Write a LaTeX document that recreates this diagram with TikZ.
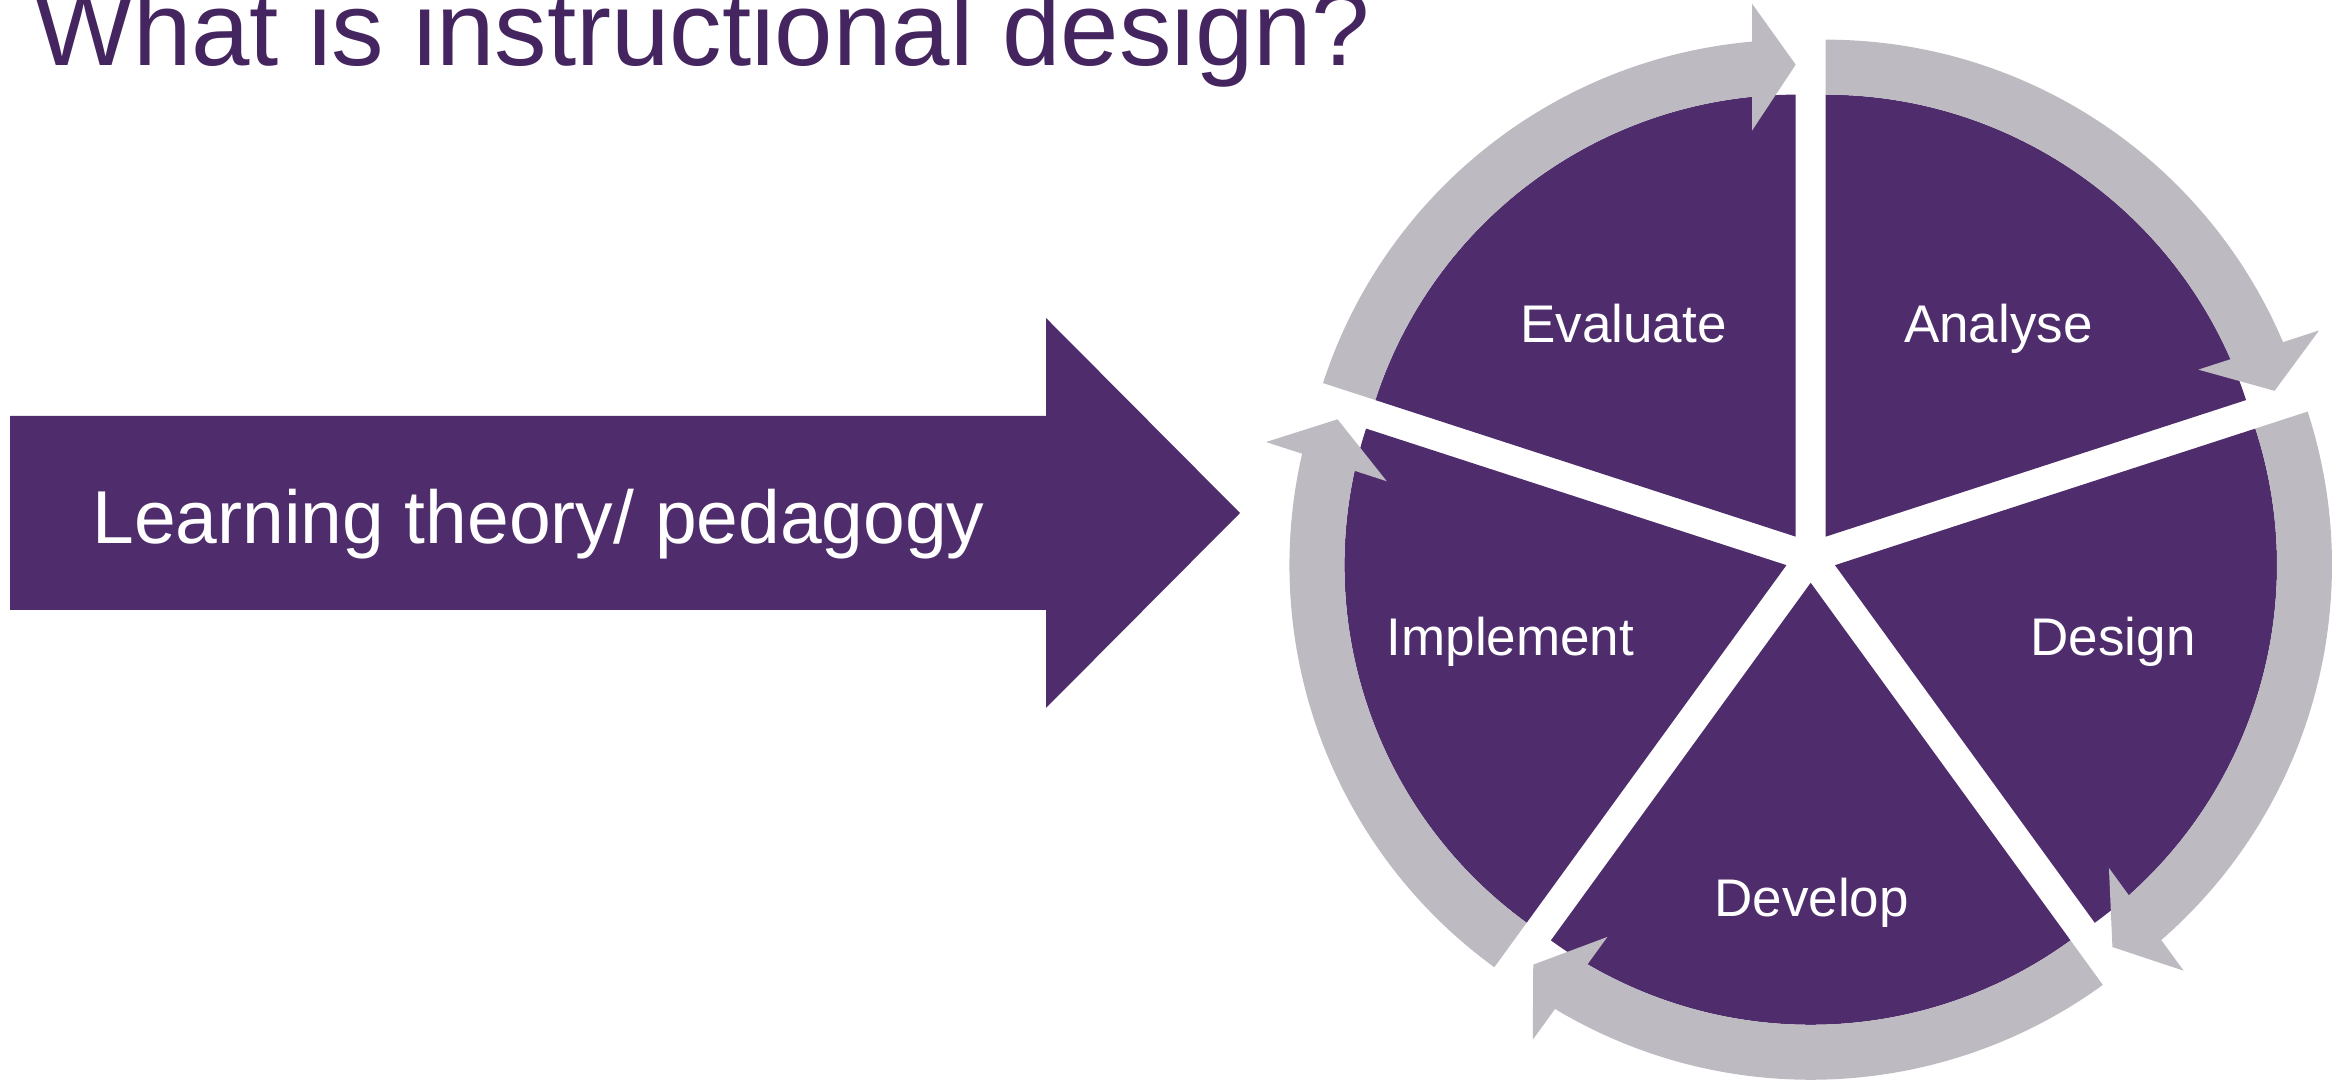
\documentclass[tikz,border=0pt]{standalone}
\usepackage{fontspec}
\setmainfont{Liberation Sans}
\definecolor{purp}{HTML}{4F2D6D}
\definecolor{ringgray}{HTML}{BDBAC1}
\definecolor{titlepurp}{HTML}{45255F}
\begin{document}
\begin{tikzpicture}[x=0.3pt,y=0.3pt,
  sectorfill/.style={fill=purp},
  ringarrow/.style={fill=ringgray},
  lbl/.style={anchor=base, inner sep=0pt, text=white, font=\fontsize{15.9pt}{19pt}\selectfont},
  arrowlbl/.style={anchor=base, inner sep=0pt, text=white, font=\fontsize{22.5pt}{27pt}\selectfont},
  titlelbl/.style={anchor=base west, inner sep=0pt, text=titlepurp, font=\fontsize{31.5pt}{36pt}\selectfont}]
\useasboundingbox (0,0) rectangle (2346,1081);
\clip (0,0) rectangle (2346,1081);

% title
\node[titlelbl] (title) at (33.4,1015) {What is instructional design?};

% big input arrow
\fill[purp] (10,471) -- (1046,471) -- (1046,373) -- (1240,568) -- (1046,763) -- (1046,665) -- (10,665) -- cycle;
\node[arrowlbl] (theory) at (538.5,537) {Learning theory/ pedagogy};

% cycle: purple sectors
\coordinate (C) at (1810.7,523.7);
\foreach \k in {0,...,4} {
  \begin{scope}[shift={(C)}, rotate=-72*\k]
    \fill[sectorfill] (14.99,20.63) -- (14.99,462.63) arc[start angle=90, end angle=18, radius=442] -- cycle;
  \end{scope}
}
% cycle: gray circular arrows
\foreach \k in {0,...,4} {
  \begin{scope}[shift={(C)}, rotate=-72*\k]
    \fill[ringarrow] (14.99,517.63) arc[start angle=90, end angle=23.04, radius=497]
      -- (508.40,226.90) -- (463.89,166.49) -- (387.62,187.65) -- (419.80,198.08)
      arc[start angle=23.67, end angle=90, radius=442] -- cycle;
  \end{scope}
}

% labels
\node[lbl] (analyse) at (1998.4,738.1) {Analyse};
\node[lbl] (evaluate) at (1623.5,738.1) {Evaluate};
\node[lbl] (implement) at (1510.4,425) {Implement};
\node[lbl] (design) at (2113.2,425) {Design};
\node[lbl] (develop) at (1811.7,164) {Develop};
\end{tikzpicture}
\end{document}
